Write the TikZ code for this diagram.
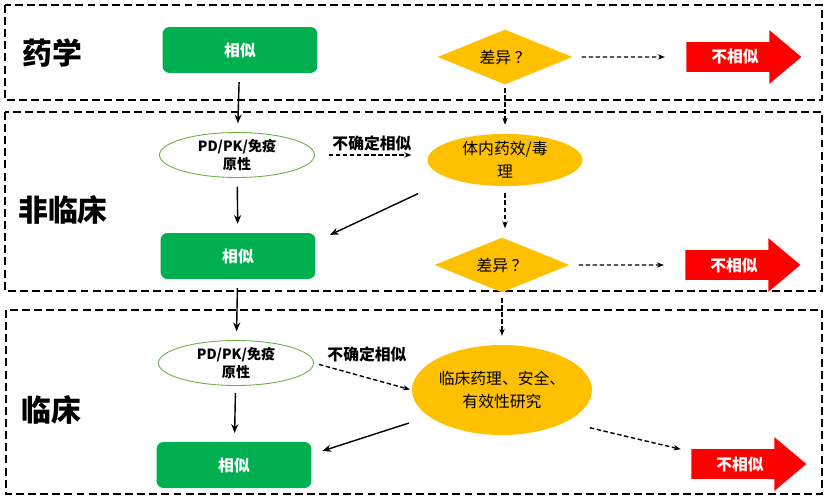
\documentclass[tikz,border=0pt]{standalone}
\usepackage{fontspec}
\setmainfont{Noto Sans CJK SC}
\usepackage{tikz}
\usetikzlibrary{shapes.geometric, shapes.arrows, positioning, arrows.meta}
\definecolor{SimGreen}{RGB}{0,176,80}
\definecolor{SimOrange}{RGB}{255,192,0}
\definecolor{SimRed}{RGB}{255,0,0}
\definecolor{SimLine}{RGB}{112,173,71}

\begin{document}
\begin{tikzpicture}[x=0.02cm, y=-0.02cm,
          stage/.style={draw, line width=1.1pt, dash pattern=on 4.5pt off 2.4pt},
          stagename/.style={font=\fontsize{17}{19}\selectfont\bfseries},
          same/.style={rectangle, rounded corners=4pt, fill=SimGreen, text=white,
                       minimum width=3.1cm, minimum height=0.92cm,
                       font=\fontsize{9}{11}\selectfont\bfseries},
          assay/.style={ellipse, draw=SimLine, line width=0.5pt, fill=white,
                        minimum width=3.1cm, minimum height=0.9cm, inner sep=0pt,
                        align=center, font=\fontsize{8}{10}\selectfont\bfseries},
          study/.style={ellipse, fill=SimOrange, inner sep=0pt, align=center,
                        font=\fontsize{9}{13}\selectfont},
          diff/.style={diamond, fill=SimOrange, aspect=2.5, inner sep=0pt,
                       minimum width=2.7cm, minimum height=1.1cm,
                       font=\fontsize{9}{11}\selectfont},
          notsame/.style={single arrow, fill=SimRed, text=white,
                          minimum height=2.3cm, single arrow head extend=0.24cm,
                          single arrow tip angle=80, inner xsep=0pt, inner ysep=0pt,
                          text height=0.41cm, text depth=0.17cm,
                          font=\fontsize{9}{11}\selectfont\bfseries},
          note/.style={font=\fontsize{9}{11}\selectfont\bfseries},
          flow/.style={-{Stealth[length=5pt,width=4pt]}, line width=0.8pt},
          maybe/.style={-{Stealth[length=4pt,width=3pt]}, line width=0.8pt,
                        dash pattern=on 2.5pt off 1.5pt}
        ]
        \useasboundingbox (0,0) rectangle (830,500);

        % Stages
        \draw[stage] (5,5) rectangle (822,100);
        \draw[stage] (5,112) rectangle (822,291);
        \draw[stage] (6,310) rectangle (822,494);
        \node[stagename] (pharm) at (52,53) {药学};
        \node[stagename] (preclin) at (63,210) {非临床};
        \node[stagename] (clin) at (51,410) {临床};

        % Pharmacy
        \node[same] (same1) at (240,50) {相似};
        \node[diff] (diff1) at (505,57) {差异 ？};
        \node[notsame] (nosame1) at (735,57) {不相似};

        % Non-clinical
        \node[assay] (assay1) at (237,155) {PD/PK/免疫\\原性};
        \node[study, minimum width=3.1cm, minimum height=0.86cm] (study1) at (505,160)
              {体内药效/毒\\理};
        \node[same] (same2) at (238,256) {相似};
        \node[diff] (diff2) at (502,265) {差异 ？};
        \node[notsame] (nosame2) at (734,265) {不相似};
        \node[note] (unsure1) at (372,143) {不确定相似};

        % Clinical
        \node[assay] (assay2) at (236,363) {PD/PK/免疫\\原性};
        \node[study, minimum width=3.6cm, minimum height=1.8cm] (study2) at (502,390)
              {临床药理、安全、\\有效性研究};
        \node[same] (same3) at (234,465) {相似};
        \node[notsame] (nosame3) at (740,464) {不相似};
        \node[note] (unsure2) at (367,354) {不确定相似};

        % Connectors
        \draw[flow, shorten <=5pt, shorten >=5pt] (same1) -- (assay1);
        \draw[flow, shorten <=5pt, shorten >=5pt] (assay1) -- (same2);
        \draw[flow, shorten <=5pt, shorten >=5pt] (same2) -- (assay2);
        \draw[flow, shorten <=4pt, shorten >=5pt] (assay2) -- (same3);
        \draw[maybe, shorten <=5pt, shorten >=12pt] (diff1) -- (nosame1);
        \draw[maybe, shorten <=5pt, shorten >=12pt] (diff2) -- (nosame2);
        \draw[maybe, shorten <=2pt, shorten >=5pt] (diff1) -- (study1);
        \draw[maybe, shorten <=4pt, shorten >=5pt] (study1.south) -- (study1.south |- diff2.north);
        \draw[maybe, shorten <=3pt, shorten >=5pt] (diff2.south) -- (diff2.south |- study2.north);
        \draw[maybe, shorten <=8pt, shorten >=9pt] (assay1.east) -- (assay1.east -| study1.west);
        \draw[maybe, shorten <=3pt, shorten >=1pt] (assay2.east) -- (study2.west);
        \draw[flow, shorten <=20pt] (study1.south west) -- ([xshift=8pt,yshift=12pt]same2.east);
        \draw[flow, shorten <=12pt] (study2.200) -- ([xshift=6pt,yshift=8pt]same3.east);
        \draw[maybe, shorten <=14pt, shorten >=6pt] (study2.south east) -- ([yshift=7pt]nosame3.west);
      \end{tikzpicture}
\end{document}
